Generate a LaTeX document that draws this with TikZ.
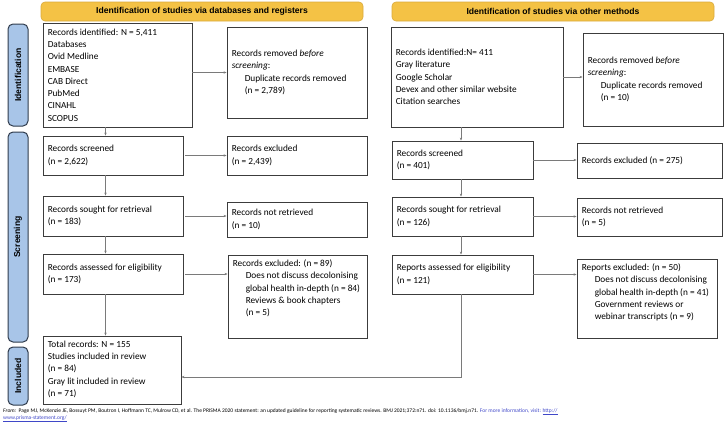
\documentclass[tikz,border=0pt]{standalone}
\usepackage{fontspec}
\setmainfont{Carlito}
\newfontfamily\hdfont{Liberation Sans}
\usetikzlibrary{arrows.meta}
\definecolor{hdfill}{HTML}{F4C245}
\definecolor{hdline}{HTML}{D9AA3C}
\definecolor{sidefill}{HTML}{A8C5E8}
\definecolor{sideline}{HTML}{2F3B4C}
\definecolor{boxline}{HTML}{3C3C3C}
\definecolor{conn}{HTML}{7A7A7A}
\definecolor{linkblue}{HTML}{3F47C8}
\newcommand\cbox[6]{%
  \node[pbox, minimum width={(#4-#2)*1pt}, minimum height={(#5-#3)*1pt}] (#1) at ({(#2+#4)/2},{(#3+#5)/2}) {};
  \node[ptext, anchor=west] (#1t) at ([xshift=5pt]#1.west) {#6};}
\newcommand\tbox[6]{%
  \node[pbox, minimum width={(#4-#2)*1pt}, minimum height={(#5-#3)*1pt}] (#1) at ({(#2+#4)/2},{(#3+#5)/2}) {};
  \node[ptext, anchor=north west] (#1t) at ([xshift=5pt,yshift=-5pt]#1.north west) {#6};}
\newcommand\ind{\hspace*{13pt}}
\begin{document}
\begin{tikzpicture}[x=1pt,y=-1pt,
  hdr/.style={draw=hdline, fill=hdfill, rounded corners=4pt, line width=0.6pt, inner sep=0pt},
  hdtext/.style={font=\hdfont\bfseries\fontsize{8.6}{9}\selectfont, inner sep=0pt},
  side/.style={draw=sideline, fill=sidefill, rounded corners=5pt, line width=1pt, inner sep=0pt},
  sidetext/.style={font=\hdfont\bfseries\fontsize{8.6}{9}\selectfont, rotate=90, inner sep=0pt},
  pbox/.style={draw=boxline, line width=0.9pt, inner sep=0pt},
  ptext/.style={align=left, inner sep=0pt, font=\fontsize{9.3}{12.3}\selectfont},
  arr/.style={draw=conn, line width=0.6pt, -{Stealth[length=3pt,width=2.4pt]}}
]
\useasboundingbox (0,0) rectangle (725,423);
% headers
\node[hdr, minimum width=322pt, minimum height=19pt] (hL) at (202,11.5) {};
\node[hdtext] (hLt) at (hL) {Identification of studies via databases and registers};
\node[hdr, minimum width=322pt, minimum height=19pt] (hR) at (553,11.5) {};
\node[hdtext] (hRt) at (hR) {Identification of studies via other methods};
% side labels
\node[side, minimum width=20pt, minimum height=102pt] (sI) at (18,75) {};
\node[sidetext] (sIt) at (sI) {Identification};
\node[side, minimum width=20pt, minimum height=210pt] (sS) at (18,237) {};
\node[sidetext] (sSt) at (sS) {Screening};
\node[side, minimum width=20pt, minimum height=58pt] (sN) at (18,376) {};
\node[sidetext] (sNt) at (sN) {Included};
% left column
\cbox{idL}{43}{23}{192}{127}{Records identified: N = 5,411\\Databases\\Ovid Medline\\EMBASE\\CAB Direct\\PubMed\\CINAHL\\SCOPUS}
\cbox{remL}{227}{27}{367}{118}{Records removed \textit{before}\\\textit{screening}:\\\ind Duplicate records removed\\\ind (n = 2,789)}
\cbox{scrL}{43}{136}{183}{175}{Records screened\\(n = 2,622)}
\cbox{excL}{227}{136}{367}{175}{Records excluded\\(n = 2,439)}
\cbox{sghL}{43}{196}{183}{236}{Records sought for retrieval\\(n = 183)}
\cbox{nrL}{227}{202}{367}{237}{Records not retrieved\\(n = 10)}
\cbox{aseL}{43}{254}{183}{294}{Records assessed for eligibility\\(n = 173)}
\tbox{exL}{228}{255}{367}{338}{Records excluded: (n = 89)\\\ind Does not discuss decolonising\\\ind global health in-depth (n = 84)\\\ind Reviews \& book chapters\\\ind (n = 5)}
\tbox{tot}{43}{336}{181}{404}{Total records: N = 155\\Studies included in review\\(n = 84)\\Gray lit included in review\\(n = 71)}
% right column
\cbox{idR}{391}{27}{563}{127}{Records identified:N= 411\\Gray literature\\Google Scholar\\Devex and other similar website\\Citation searches}
\cbox{remR}{583}{33}{723}{126}{Records removed \textit{before}\\\textit{screening}:\\\ind Duplicate records removed\\\ind (n = 10)}
\cbox{scrR}{392}{141}{533}{179}{Records screened\\(n = 401)}
\cbox{excR}{577}{143}{722}{178}{Records excluded (n = 275)}
\cbox{sghR}{392}{197}{533}{236}{Records sought for retrieval\\(n = 126)}
\cbox{nrR}{577}{198}{722}{236}{Records not retrieved\\(n = 5)}
\cbox{aseR}{392}{255}{533}{294}{Reports assessed for eligibility\\(n = 121)}
\tbox{exR}{577}{259}{717}{338}{Reports excluded: (n = 50)\\\ind Does not discuss decolonising\\\ind global health in-depth (n = 41)\\\ind Government reviews or\\\ind webinar transcripts (n = 9)}
% connectors
\coordinate (xL) at (105.5,0);
\coordinate (xR) at (461,0);
\coordinate (yB) at (0,377);
\draw[arr] (idL.south -| xL) -- (scrL.north -| xL);
\draw[arr] (scrL.south -| xL) -- (sghL.north -| xL);
\draw[arr] (sghL.south -| xL) -- (aseL.north -| xL);
\draw[arr] (aseL.south -| xL) -- (tot.north -| xL);
\draw[arr] (idL.east |- remL.west) -- (remL.west);
\draw[arr] ([xshift=2pt]scrL.east) -- (scrL.east -| excL.west);
\draw[arr] ([xshift=2pt]sghL.east) -- (sghL.east -| nrL.west);
\draw[arr] ([xshift=2pt]aseL.east) -- (aseL.east -| exL.west);
\draw[arr] (idR.south -| xR) -- (scrR.north -| xR);
\draw[arr] (scrR.south -| xR) -- (sghR.north -| xR);
\draw[arr] (sghR.south -| xR) -- (aseR.north -| xR);
\draw[arr] (idR.east) -- (idR.east -| remR.west);
\draw[arr] (scrR.east) -- (scrR.east -| excR.west);
\draw[arr] (sghR.east) -- (sghR.east -| nrR.west);
\draw[arr] (aseR.east) -- (aseR.east -| exR.west);
\draw[arr] (aseR.south -| xR) -- (xR |- yB) -- (tot.east |- yB);
% footer
\node[anchor=north west, align=left, inner sep=0pt, font=\fontsize{5.5}{7}\selectfont] (foot) at (3,408) {{\itshape From:}\ \ Page MJ, McKenzie JE, Bossuyt PM, Boutron I, Hoffmann TC, Mulrow CD, et al. The PRISMA 2020 statement: an updated guideline for reporting systematic reviews. BMJ 2021;372:n71. doi: 10.1136/bmj.n71. \textcolor{linkblue}{For more information, visit: \underline{http://}}\\\textcolor{linkblue}{\underline{www.prisma-statement.org/}}};
\end{tikzpicture}
\end{document}
